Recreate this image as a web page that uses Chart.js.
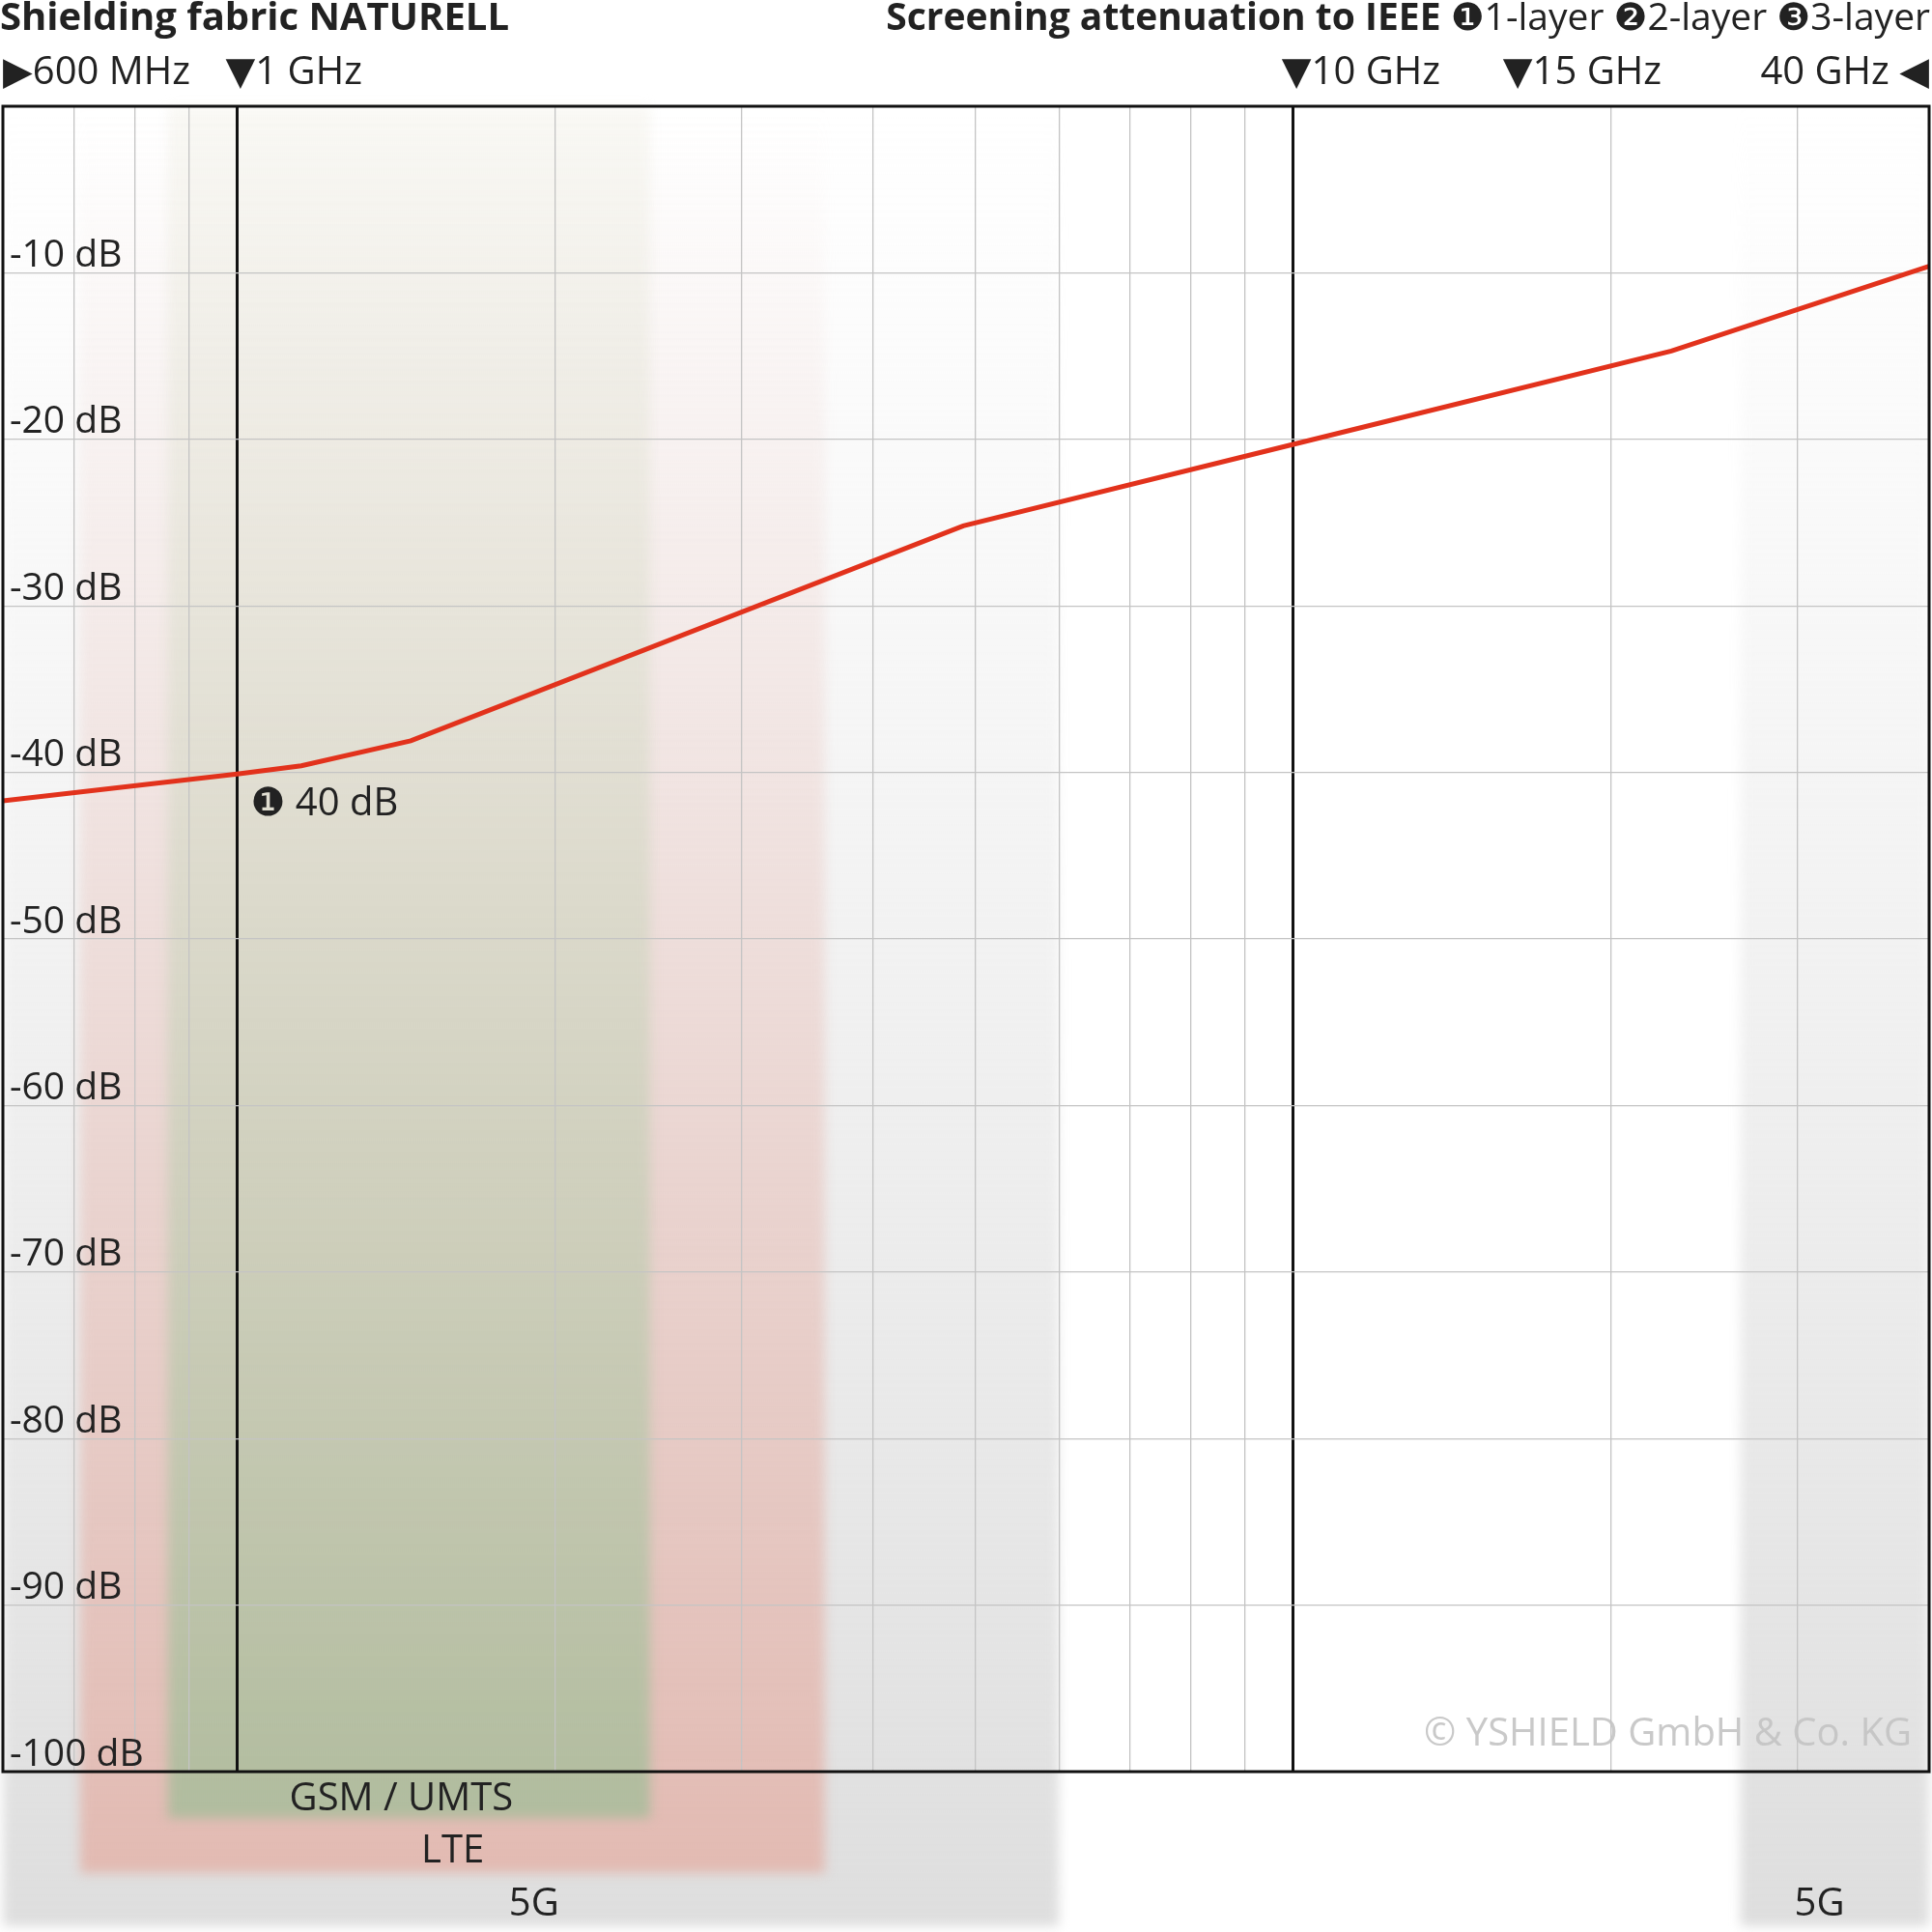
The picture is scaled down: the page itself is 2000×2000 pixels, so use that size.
<!DOCTYPE html>
<html><head><meta charset="utf-8">
<script src="https://cdn.jsdelivr.net/npm/chart.js@4"></script>
<style>html,body{margin:0;padding:0;background:#fff}</style>
</head><body>
<canvas id="c" width="2000" height="2000"></canvas>
<script>
// données (fréquence en GHz, atténuation en dB)
const freqGHz = [0.6, 1.0, 1.15, 1.46, 4.87, 10, 22.8, 40];
const attenDb = [-41.7, -40.1, -39.6, -38.1, -25.2, -20.3, -14.7, -9.6];
const gridFreqs = [0.6,0.7,0.8,0.9,1,2,3,4,5,6,7,8,9,10,20,30,40];
const yTicks = [-10,-20,-30,-40,-50,-60,-70,-80,-90,-100];
const markers = [
  { f: 0.6, text: '▶600 MHz', align: 'left' },
  { f: 1, text: '▼1 GHz', align: 'left' },
  { f: 10, text: '▼10 GHz', align: 'left' },
  { f: 16.2, text: '▼15 GHz', align: 'left' },
  { f: 40, text: '40 GHz ◀', align: 'right' }
];
// bandes de fréquence : [début, fin, profondeur sous le graphe]
const bands = [
  { name: '5G', from: 0.6, to: 6.0, depth: 160, top: 'rgba(230,230,230,0)', bottom: 'rgba(222,222,222,1)' },
  { name: '5G', from: 26.5, to: 40, depth: 160, top: 'rgba(230,230,230,0)', bottom: 'rgba(222,222,222,1)' },
  { name: 'LTE', from: 0.71, to: 3.6, depth: 105, top: 'rgba(240,210,205,0)', bottom: 'rgba(226,186,178,1)' },
  { name: 'GSM / UMTS', from: 0.86, to: 2.46, depth: 48, top: 'rgba(240,238,228,0.4)', bottom: 'rgba(176,188,158,1)' }
];
const bandLabels = [
  { text: 'GSM / UMTS', f: 1.43, dy: 29 },
  { text: 'LTE', f: 1.6, dy: 83 },
  { text: '5G', f: 1.91, dy: 138 },
  { text: '5G', f: 31.5, dy: 138 }
];

const FONT = '"Open Sans", "DejaVu Sans", sans-serif';

const decor = {
  id: 'decor',
  beforeDraw(chart) {
    const ctx = chart.ctx, x = chart.scales.x, a = chart.chartArea;
    ctx.save();
    ctx.fillStyle = '#fff';
    ctx.fillRect(0, 0, chart.width, chart.height);
    ctx.filter = 'blur(6px)';
    bands.forEach(b => {
      const x0 = x.getPixelForValue(b.from), x1 = x.getPixelForValue(b.to);
      const y1 = a.bottom + b.depth;
      const g = ctx.createLinearGradient(0, a.top, 0, y1);
      g.addColorStop(0, b.top);
      g.addColorStop(1, b.bottom);
      ctx.fillStyle = g;
      ctx.fillRect(x0, a.top, x1 - x0, y1 - a.top);
    });
    ctx.restore();
  },
  afterDraw(chart) {
    const ctx = chart.ctx, x = chart.scales.x, y = chart.scales.y, a = chart.chartArea;
    ctx.save();
    // cadre
    ctx.strokeStyle = '#111';
    ctx.lineWidth = 3;
    ctx.strokeRect(a.left, a.top, a.right - a.left, a.bottom - a.top);
    // étiquettes y
    ctx.fillStyle = '#222';
    ctx.font = '39px ' + FONT;
    ctx.textAlign = 'left';
    ctx.textBaseline = 'bottom';
    yTicks.forEach(v => ctx.fillText(v + ' dB', a.left + 7, y.getPixelForValue(v) + 2));
    // marqueurs de fréquence en haut
    ctx.font = '40px ' + FONT;
    ctx.textBaseline = 'middle';
    markers.forEach(m => {
      ctx.textAlign = m.align;
      let px = x.getPixelForValue(m.f);
      if (m.align === 'left') px = Math.max(px - 12, a.left);
      ctx.fillText(m.text, px, 76);
    });
    // titres
    ctx.font = 'bold 40px ' + FONT;
    ctx.textAlign = 'left';
    ctx.fillText('Shielding fabric NATURELL', 0, 20);
    const bold = 'Screening attenuation to IEEE ';
    const rest = '❶1-layer ❷2-layer ❸3-layer';
    ctx.font = '39px ' + FONT;
    const wRest = ctx.measureText(rest).width;
    ctx.textAlign = 'right';
    ctx.fillText(rest, 1998, 20);
    ctx.font = 'bold 39px ' + FONT;
    ctx.fillText(bold, 1998 - wRest, 20);
    // bandes
    ctx.font = '40px ' + FONT;
    ctx.textAlign = 'center';
    ctx.fillStyle = '#222';
    bandLabels.forEach(l => ctx.fillText(l.text, x.getPixelForValue(l.f), a.bottom + l.dy));
    // annotation
    ctx.textAlign = 'left';
    ctx.fillText('❶ 40 dB', x.getPixelForValue(1) + 14, y.getPixelForValue(-40) + 33);
    // filigrane
    ctx.textAlign = 'right';
    ctx.fillStyle = 'rgba(195,195,195,0.9)';
    ctx.fillText('© YSHIELD GmbH & Co. KG', a.right - 18, a.bottom - 38);
    ctx.restore();
  }
};

new Chart(document.getElementById('c'), {
  type: 'line',
  data: {
    datasets: [{
      data: freqGHz.map((f, i) => ({ x: f, y: attenDb[i] })),
      borderColor: '#e2321c',
      borderWidth: 5,
      pointRadius: 0,
      tension: 0
    }]
  },
  options: {
    responsive: false,
    devicePixelRatio: 1,
    animation: false,
    layout: { padding: { left: 3, right: 3, top: 110, bottom: 166 } },
    plugins: { legend: { display: false }, tooltip: { enabled: false } },
    scales: {
      x: {
        type: 'logarithmic', min: 0.6, max: 40,
        afterBuildTicks: s => { s.ticks = gridFreqs.map(v => ({ value: v })); },
        ticks: { display: false },
        border: { display: false },
        grid: {
          drawTicks: false,
          color: c => (c.tick && (c.tick.value === 1 || c.tick.value === 10)) ? '#111' : '#c4c4c4',
          lineWidth: c => (c.tick && (c.tick.value === 1 || c.tick.value === 10)) ? 3 : 1.3
        }
      },
      y: {
        min: -100, max: 0,
        ticks: { display: false, stepSize: 10 },
        border: { display: false },
        grid: { drawTicks: false, color: '#c4c4c4', lineWidth: 1.3 }
      }
    }
  },
  plugins: [decor]
});
</script>
</body></html>
